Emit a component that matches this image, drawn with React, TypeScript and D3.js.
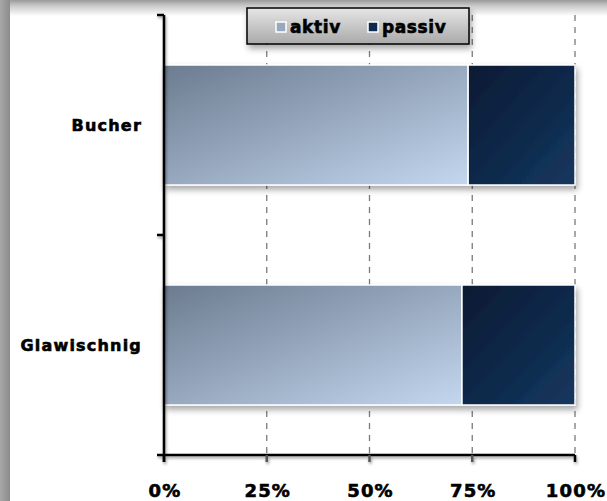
import React from "react";
import * as d3 from "d3";

const categories = ["Bucher", "Glawischnig"];
const aktiv = [0.74, 0.725];
const passiv = [0.26, 0.275];
const seriesNames = ["aktiv", "passiv"];
const xTicks = [0, 0.25, 0.5, 0.75, 1];

const W = 607;
const H = 501;
const font = "'DejaVu Sans', Verdana, sans-serif";

export default function App() {
  const x = d3.scaleLinear().domain([0, 1]).range([164, 575]);
  const y = d3.scaleBand().domain(categories).range([15, 455]).paddingInner(0.4545).paddingOuter(0.2273);
  const stackData = categories.map((c, i) => ({ cat: c, aktiv: aktiv[i], passiv: passiv[i] }));
  const stack = d3.stack<any>().keys(seriesNames)(stackData);
  const fills = ["url(#gA)", "url(#gP)"];
  const fmt = d3.format(".0%");
  const bandStep = y.step();
  const legendX = [276, 368];
  const textStyle = { stroke: "#000", strokeWidth: 0.6, paintOrder: "stroke" as const };

  return (
    <svg width={W} height={H} style={{ position: "absolute", left: 0, top: 0, fontFamily: font }}>
      <defs>
        <linearGradient id="leftG" x1="0" x2="1" y1="0" y2="0">
          <stop offset="0" stopColor="#a8a8a8" />
          <stop offset="1" stopColor="#8c8c8c" />
        </linearGradient>
        <linearGradient id="topG" x1="0" x2="0" y1="0" y2="1">
          <stop offset="0" stopColor="#9a9a9a" />
          <stop offset="0.35" stopColor="#c8c8c8" />
          <stop offset="1" stopColor="#ffffff" />
        </linearGradient>
        <linearGradient id="gA" x1="0" y1="0" x2="1" y2="1">
          <stop offset="0" stopColor="#6c7b8f" />
          <stop offset="1" stopColor="#c3d7ef" />
        </linearGradient>
        <linearGradient id="gP" x1="0" y1="0" x2="1" y2="1">
          <stop offset="0" stopColor="#0a1a33" />
          <stop offset="1" stopColor="#14375f" />
        </linearGradient>
        <linearGradient id="legG" x1="0" x2="0" y1="0" y2="1">
          <stop offset="0" stopColor="#e6e6e6" />
          <stop offset="1" stopColor="#a9a9a9" />
        </linearGradient>
        <filter id="sh" x="-10%" y="-10%" width="130%" height="140%">
          <feGaussianBlur in="SourceAlpha" stdDeviation="3" />
          <feOffset dx="2" dy="4" result="b" />
          <feComponentTransfer><feFuncA type="linear" slope="0.35" /></feComponentTransfer>
          <feMerge><feMergeNode /><feMergeNode in="SourceGraphic" /></feMerge>
        </filter>
        <filter id="shL" x="-20%" y="-20%" width="140%" height="160%">
          <feGaussianBlur in="SourceAlpha" stdDeviation="1.5" />
          <feOffset dx="1" dy="2" result="b" />
          <feComponentTransfer><feFuncA type="linear" slope="0.4" /></feComponentTransfer>
          <feMerge><feMergeNode /><feMergeNode in="SourceGraphic" /></feMerge>
        </filter>
      </defs>
      <rect x={0} y={0} width={W} height={H} fill="#ffffff" />
      <rect x={0} y={0} width={W} height={16} fill="url(#topG)" />
      <rect x={0} y={0} width={10} height={H} fill="url(#leftG)" />

      {/* gridlines */}
      {xTicks.slice(1).map((t) => (
        <line key={t} x1={x(t)} x2={x(t)} y1={15} y2={455} stroke="#7a7a7a" strokeWidth={1.3} strokeDasharray="6,6" />
      ))}

      {/* bars */}
      <g filter="url(#sh)">
        {stack.map((s, si) =>
          s.map((d, i) => (
            <rect
              key={si + "-" + i}
              x={x(d[0])}
              y={y(categories[i])!}
              width={x(d[1]) - x(d[0])}
              height={y.bandwidth()}
              fill={fills[si]}
              stroke="#ffffff"
              strokeWidth={1.5}
            />
          ))
        )}
      </g>

      {/* axes */}
      <g filter="url(#shL)">
        <line x1={164} x2={164} y1={15} y2={462} stroke="#000" strokeWidth={2.5} />
        <line x1={157} x2={575} y1={455} y2={455} stroke="#000" strokeWidth={2.5} />
        {[15, 15 + bandStep].map((v) => (
          <line key={v} x1={157} x2={164} y1={v} y2={v} stroke="#000" strokeWidth={2.5} />
        ))}
        {xTicks.map((t) => (
          <line key={t} x1={x(t)} x2={x(t)} y1={455} y2={462} stroke={t === 0 || t === 1 ? "#000" : "#555"} strokeWidth={2.5} />
        ))}
      </g>

      {/* tick labels */}
      {xTicks.map((t) => (
        <text key={t} x={x(t) + 1} y={497} textAnchor="middle" fontSize={18} fontWeight="bold" letterSpacing={1.2} fill="#000" style={textStyle}>
          {fmt(t)}
        </text>
      ))}
      {categories.map((c) => (
        <text key={c} x={142} y={y(c)! + y.bandwidth() / 2 + 6} textAnchor="end" fontSize={16} fontWeight="bold" letterSpacing={1.2} fill="#000" style={textStyle}>
          {c}
        </text>
      ))}

      {/* legend */}
      <g filter="url(#sh)">
        <rect x={247} y={8} width={222} height={36} fill="url(#legG)" stroke="#000" strokeWidth={1.5} />
      </g>
      {seriesNames.map((n, i) => {
        const lx = legendX[i];
        return (
          <g key={n}>
            <rect x={lx} y={22} width={10} height={10} fill={i === 0 ? "#98a8bd" : "#0f2a4f"} stroke="#fff" strokeWidth={1.5} />
            <text x={lx + 14} y={33} fontSize={17} fontWeight="bold" letterSpacing={0.6} fill="#000" style={textStyle}>{n}</text>
          </g>
        );
      })}
    </svg>
  );
}
